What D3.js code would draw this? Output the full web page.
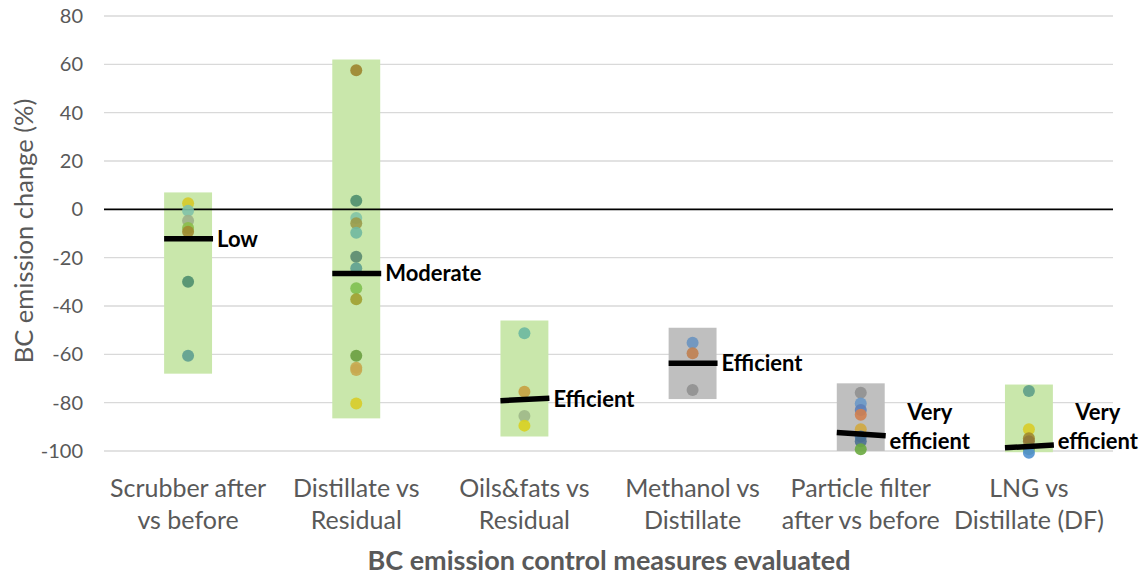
<!DOCTYPE html>
<html><head><meta charset="utf-8">
<script src="https://cdn.jsdelivr.net/npm/d3@7"></script>
<style>body{margin:0;background:#fff}svg{display:block}</style>
</head><body><div id="chart"></div>
<script>
const categories = [["Scrubber after","vs before"],["Distillate vs","Residual"],["Oils&fats vs","Residual"],["Methanol vs","Distillate"],["Particle filter","after vs before"],["LNG vs","Distillate (DF)"]];
const rangeMax = [7, 62, -46, -49, -72, -72.5];
const rangeMin = [-68, -86.5, -94, -78.5, -100, -100.5];
const bandColor = ["#c9e7ab","#c9e7ab","#c9e7ab","#bfbfbf","#bfbfbf","#c9e7ab"];
const meanLeft = [-12.2, -26.5, -79.2, -63.7, -92.3, -98.7];
const meanRight = [-12.2, -26.5, -78.2, -63.7, -93.7, -97.5];
const ratings = [["Low"],["Moderate"],["Efficient"],["Efficient"],["Very","efficient"],["Very","efficient"]];
const pointValues = [
  [2.5, -0.6, -4.7, -7.7, -9.3, -30, -60.6],
  [57.6, 3.6, -3.6, -5.8, -9.7, -19.6, -24.4, -32.7, -37.2, -60.6, -65.5, -66.5, -80.3],
  [-51.3, -75.5, -85.5, -89.5],
  [-55.2, -59.6, -74.8],
  [-75.9, -80.3, -83, -85, -91, -94, -96, -99.3],
  [-75.2, -91, -94.7, -96, -99.3, -100.7]
];
const pointColors = [
  ["#d6c928","#80c2a8","#9db08a","#8bbf4a","#a08a30","#4e8e6e","#5e9e90"],
  ["#9c842e","#4e8e6e","#82c4a6","#9a9a4a","#70b8a0","#5a8a70","#5ea090","#80c050","#a0a030","#6a9e40","#c8a850","#c8a850","#d8cc28"],
  ["#6cb8a0","#c8a040","#9eb888","#d8d020"],
  ["#6a94c0","#c08050","#909090"],
  ["#909090","#6a98c8","#5e80b8","#d08050","#d0a840","#4a78a8","#4a7090","#6aaa40"],
  ["#5e9e88","#d8cc28","#a08a30","#907838","#70b040","#5090d0"]
];
const yTicks = [80, 60, 40, 20, 0, -20, -40, -60, -80, -100];

const W = 1143, H = 576;
const svg = d3.select("#chart").append("svg").attr("width", W).attr("height", H);
const font = "Lato, 'Open Sans', sans-serif";
const x = d3.scaleBand().domain(d3.range(categories.length)).range([104, 1113]);
const y = d3.scaleLinear().domain([-100, 80]).range([451, 16]);
const bw = x.bandwidth() * 0.285;
const cx = i => x(i) + x.bandwidth() / 2;

// gridlines
svg.append("g").selectAll("line").data(yTicks.filter(d => d !== 0)).join("line")
  .attr("x1", 104).attr("x2", 1113).attr("y1", d => y(d)).attr("y2", d => y(d))
  .attr("stroke", "#d9d9d9").attr("stroke-width", 1.3);

// y axis labels
const yAxis = svg.append("g").attr("transform", "translate(104,0)")
  .call(d3.axisLeft(y).tickValues(yTicks).tickSize(0).tickPadding(21).tickFormat(d => String(d)));
yAxis.select(".domain").remove();
yAxis.selectAll("text").attr("font-family", font).attr("font-size", 20).attr("fill", "#595959");

// bands
svg.append("g").selectAll("rect").data(categories).join("rect")
  .attr("x", (d, i) => cx(i) - bw / 2).attr("width", bw)
  .attr("y", (d, i) => y(rangeMax[i])).attr("height", (d, i) => y(rangeMin[i]) - y(rangeMax[i]))
  .attr("fill", (d, i) => bandColor[i]);

// zero line
svg.append("line").attr("x1", 104).attr("x2", 1113).attr("y1", y(0)).attr("y2", y(0))
  .attr("stroke", "#000").attr("stroke-width", 1.6);

// dots
pointValues.forEach((vals, i) => {
  svg.append("g").selectAll("circle").data(vals).join("circle")
    .attr("cx", cx(i)).attr("cy", d => y(d)).attr("r", 6)
    .attr("fill", (d, j) => pointColors[i][j]).attr("fill-opacity", 0.9);
});

// mean lines
svg.append("g").selectAll("line").data(categories).join("line")
  .attr("x1", (d, i) => cx(i) - bw / 2).attr("x2", (d, i) => cx(i) + bw / 2 + 1)
  .attr("y1", (d, i) => y(meanLeft[i])).attr("y2", (d, i) => y(meanRight[i]))
  .attr("stroke", "#000").attr("stroke-width", 5.5);

// rating labels
ratings.forEach((lines, i) => {
  const m = (meanLeft[i] + meanRight[i]) / 2;
  if (lines.length === 1) {
    svg.append("text").attr("x", cx(i) + bw / 2 + 5).attr("y", y(m)).attr("dy", "0.35em")
      .attr("font-family", font).attr("font-weight", "bold").attr("font-size", 22).attr("fill", "#000")
      .text(lines[0]);
  } else {
    const lx = cx(i) + bw / 2 + 45;
    const t = svg.append("text").attr("text-anchor", "middle")
      .attr("font-family", font).attr("font-weight", "bold").attr("font-size", 22).attr("fill", "#000");
    t.append("tspan").attr("x", lx).attr("y", y(-96) - 29).attr("dy", "0.35em").text(lines[0]);
    t.append("tspan").attr("x", lx).attr("y", y(-96)).attr("dy", "0.35em").text(lines[1]);
  }
});

// category labels
categories.forEach((lines, i) => {
  const t = svg.append("text").attr("text-anchor", "middle").attr("font-family", font)
    .attr("font-size", 25).attr("fill", "#595959");
  lines.forEach((l, k) => t.append("tspan").attr("x", cx(i)).attr("y", 497 + k * 32).text(l));
});

// axis titles
svg.append("text").attr("x", 609).attr("y", 570).attr("text-anchor", "middle")
  .attr("font-family", font).attr("font-weight", "bold").attr("font-size", 27).attr("fill", "#595959")
  .text("BC emission control measures evaluated");
svg.append("text").attr("transform", "translate(33,231) rotate(-90)").attr("text-anchor", "middle")
  .attr("font-family", font).attr("font-size", 25.5).attr("fill", "#595959")
  .text("BC emission change (%)");
</script></body></html>
